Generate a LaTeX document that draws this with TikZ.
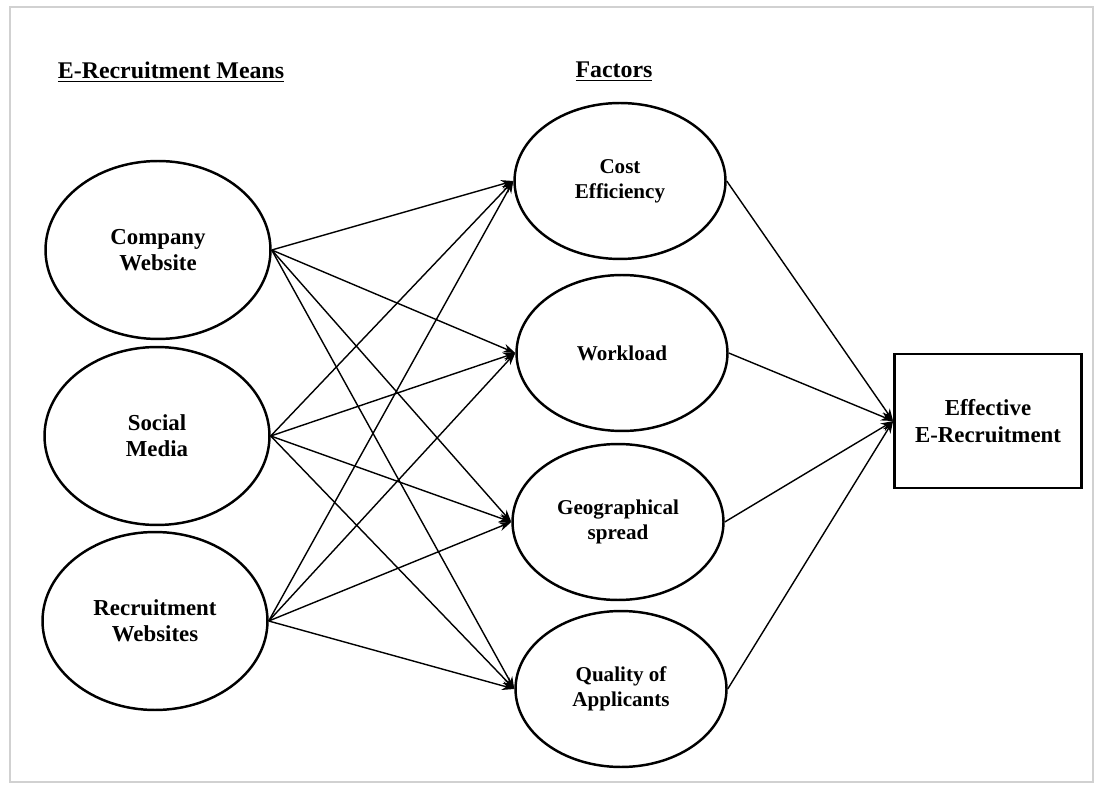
\documentclass[tikz,border=0pt]{standalone}
\usepackage{fontspec}
\setmainfont{Liberation Serif}
\usetikzlibrary{shapes.geometric,arrows.meta}

\begin{document}
\begin{tikzpicture}[x=0.02cm, y=-0.02cm,
    means/.style={ellipse, draw=black, line width=1.4pt, minimum width=4.5cm, minimum height=3.56cm,
        align=center, font=\bfseries\fontsize{13}{15}\selectfont},
    factor/.style={ellipse, draw=black, line width=1.4pt, minimum width=4.22cm, minimum height=3.12cm,
        align=center, font=\bfseries\fontsize{12}{14.2}\selectfont},
    link/.style={black, line width=0.8pt, -{Stealth[length=7pt,width=5pt]}}]
    \useasboundingbox (0,0) rectangle (1097,786);
    \draw[black!18, line width=1.5pt] (10,7) rectangle (1093,782);

    \node[font=\bfseries\fontsize{13.6}{16}\selectfont] (meanstitle) at (171,72) {\underline{E-Recruitment Means}};
    \node[font=\bfseries\fontsize{13.6}{16}\selectfont] (factorstitle) at (614,72) {\underline{Factors}};

    \node[means] (company) at (158,250) {Company\\Website};
    \node[means] (social) at (157,436) {Social\\Media};
    \node[means] (recruit) at (155,621) {Recruitment\\Websites};

    \node[factor] (cost) at (620,181) {Cost\\Efficiency};
    \node[factor] (workload) at (622,353) {Workload};
    \node[factor] (geo) at (618,522) {Geographical\\spread};
    \node[factor] (quality) at (621,689) {Quality of\\Applicants};

    \node[draw=black, line width=1.6pt, minimum width=3.74cm, minimum height=2.68cm,
        align=center, font=\bfseries\fontsize{13}{15}\selectfont] (effective) at (988,421) {Effective\\E-Recruitment};

    \draw[link] (company.east) -- (cost.west);
    \draw[link] (company.east) -- (workload.west);
    \draw[link] (company.east) -- (geo.west);
    \draw[link] (company.east) -- (quality.west);

    \draw[link] (social.east) -- (cost.west);
    \draw[link] (social.east) -- (workload.west);
    \draw[link] (social.east) -- (geo.west);
    \draw[link] (social.east) -- (quality.west);

    \draw[link] (recruit.east) -- (cost.west);
    \draw[link] (recruit.east) -- (workload.west);
    \draw[link] (recruit.east) -- (geo.west);
    \draw[link] (recruit.east) -- (quality.west);

    % factors into the outcome
    \draw[link] (cost.east) -- (effective.west);
    \draw[link] (workload.east) -- (effective.west);
    \draw[link] (geo.east) -- (effective.west);
    \draw[link] (quality.east) -- (effective.west);
\end{tikzpicture}
\end{document}
